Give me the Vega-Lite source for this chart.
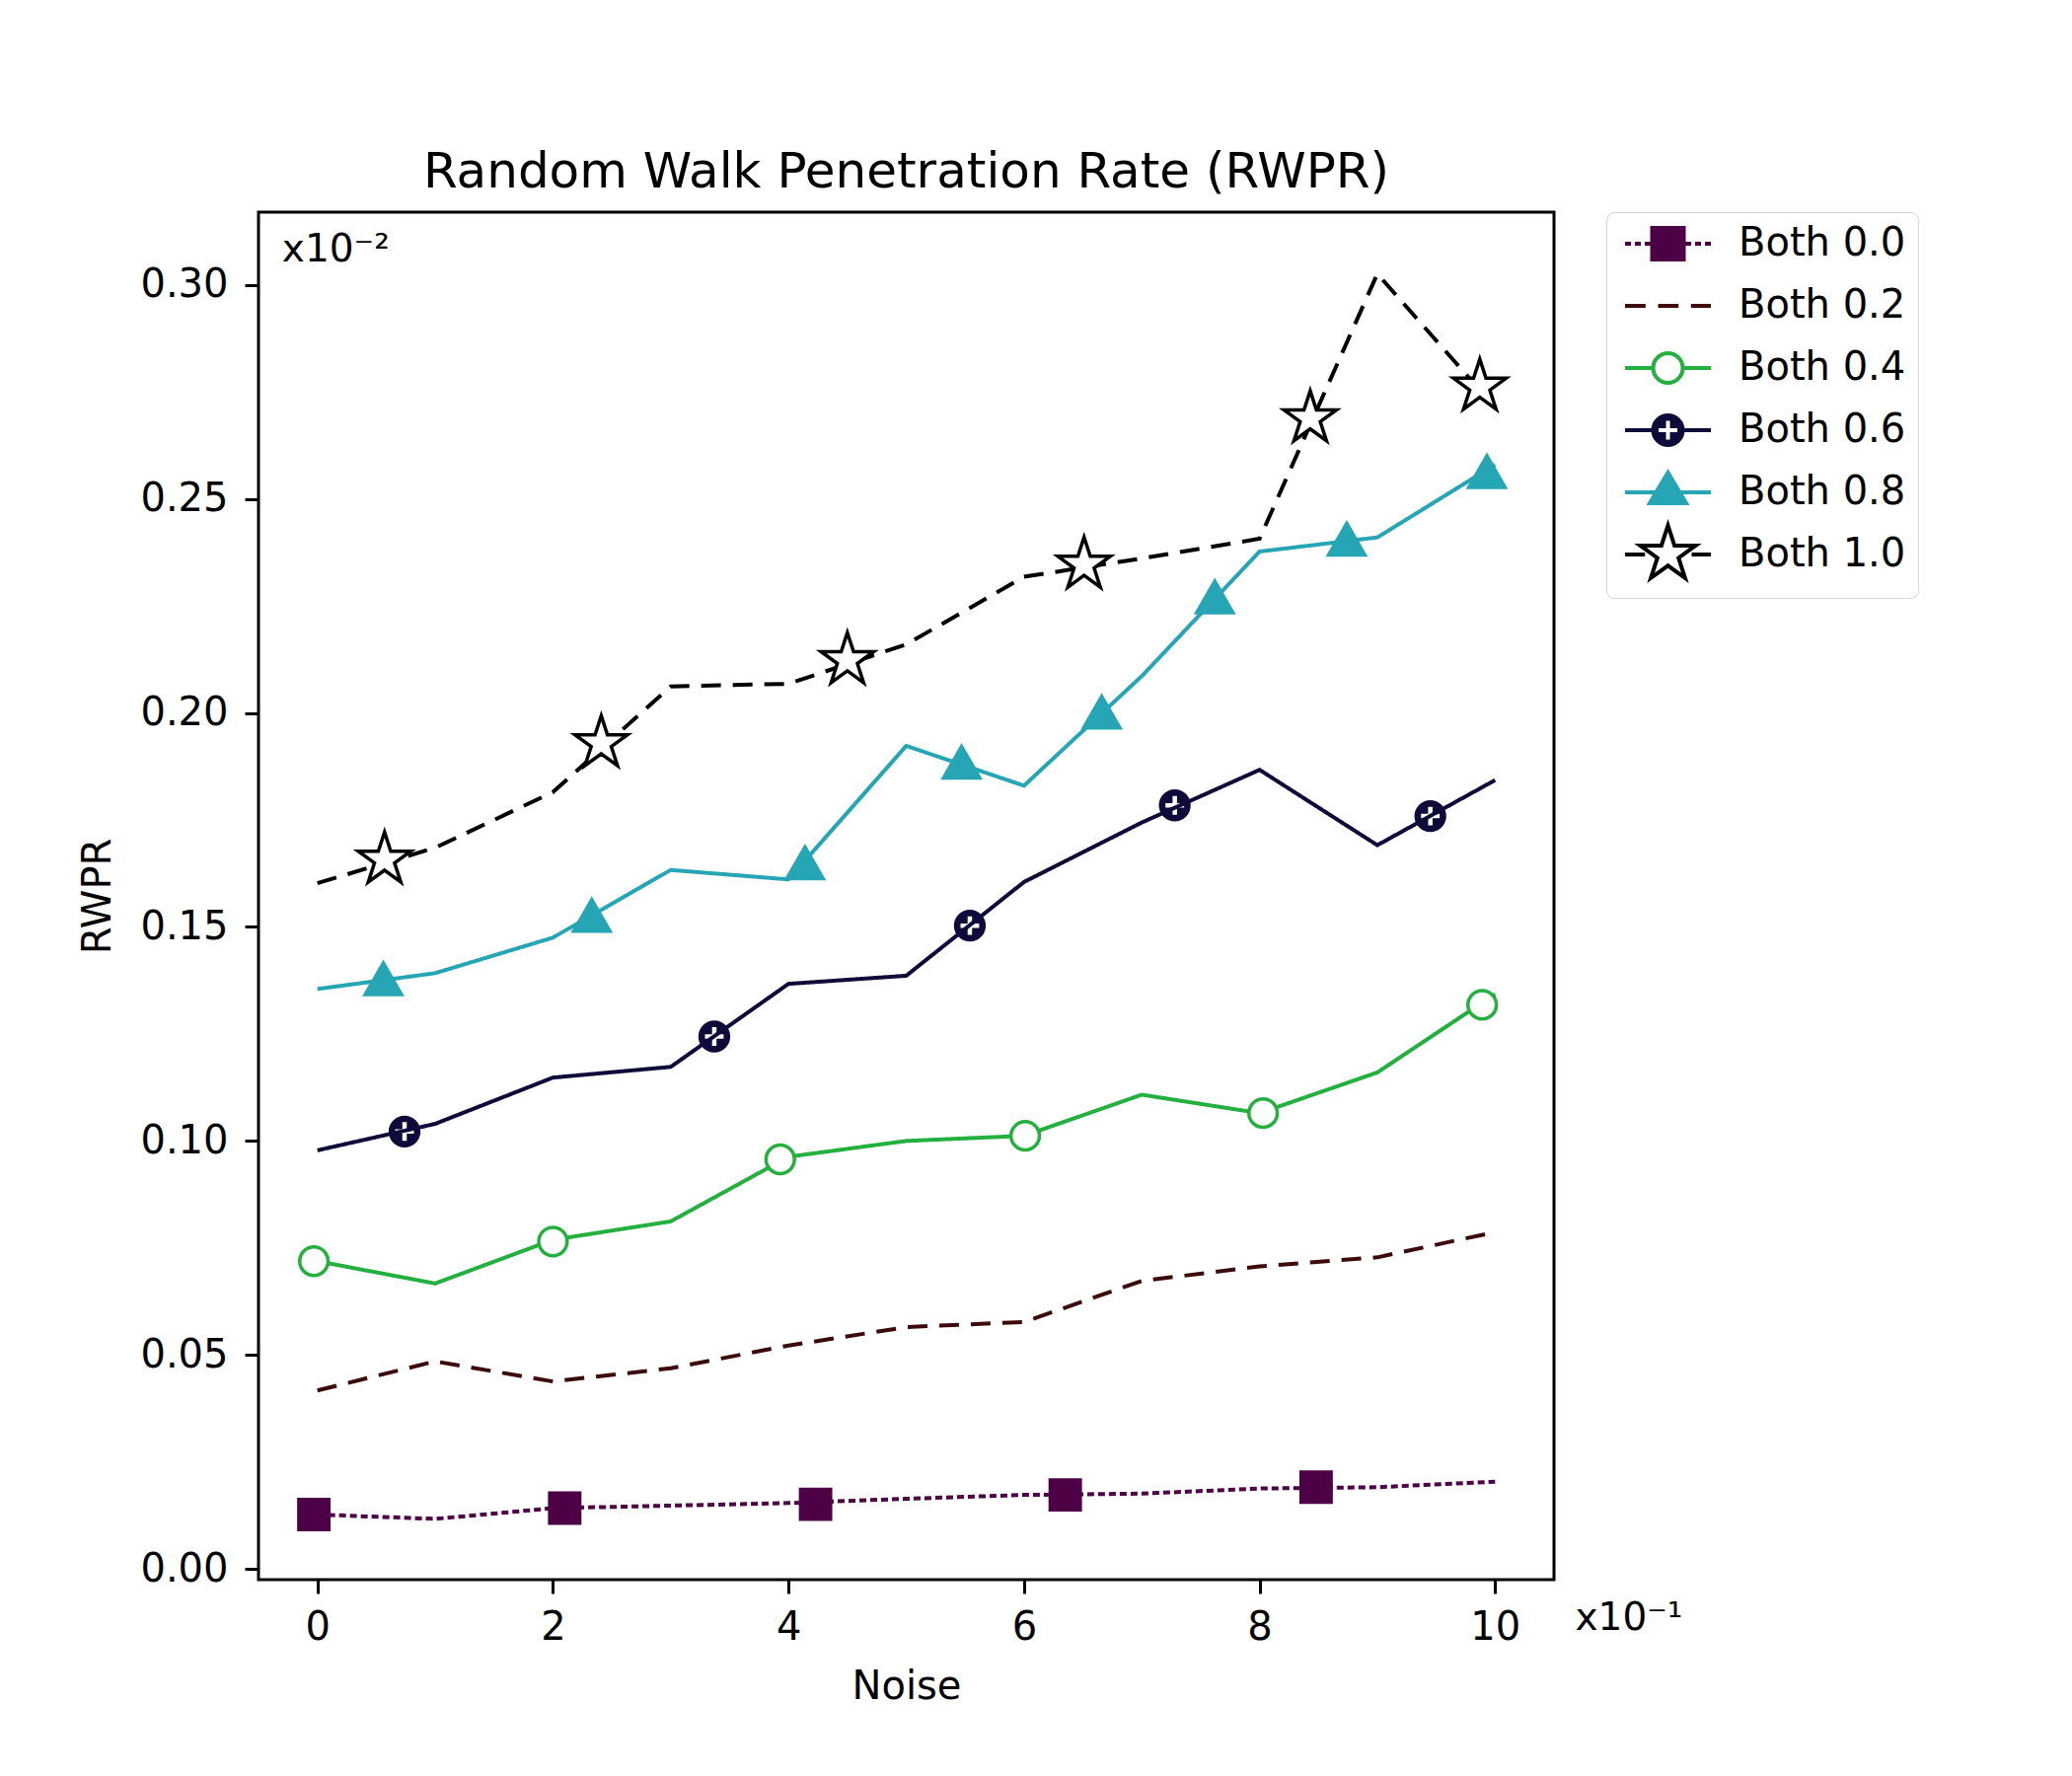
{
  "$schema": "https://vega.github.io/schema/vega-lite/v6.json",
  "width": 1313,
  "height": 1386,
  "autosize": {"type": "none"},
  "padding": {"left": 262, "top": 215, "right": 525, "bottom": 199},
  "background": "white",
  "title": {
    "text": "Random Walk Penetration Rate (RWPR)",
    "font": "DejaVu Sans",
    "fontSize": 50,
    "fontWeight": "normal",
    "color": "black",
    "anchor": "middle",
    "frame": "group",
    "baseline": "alphabetic",
    "offset": -25
  },
  "datasets": {
    "lines": [
      {"series": "Both 0.0", "noise": 0, "rwpr": 0.0127},
      {"series": "Both 0.0", "noise": 1, "rwpr": 0.0117},
      {"series": "Both 0.0", "noise": 2, "rwpr": 0.0142},
      {"series": "Both 0.0", "noise": 3, "rwpr": 0.0148},
      {"series": "Both 0.0", "noise": 4, "rwpr": 0.0154},
      {"series": "Both 0.0", "noise": 5, "rwpr": 0.0164},
      {"series": "Both 0.0", "noise": 6, "rwpr": 0.0173},
      {"series": "Both 0.0", "noise": 7, "rwpr": 0.0176},
      {"series": "Both 0.0", "noise": 8, "rwpr": 0.0188},
      {"series": "Both 0.0", "noise": 9, "rwpr": 0.0191},
      {"series": "Both 0.0", "noise": 10, "rwpr": 0.0204},
      {"series": "Both 0.2", "noise": 0, "rwpr": 0.0417},
      {"series": "Both 0.2", "noise": 1, "rwpr": 0.0485},
      {"series": "Both 0.2", "noise": 2, "rwpr": 0.0438},
      {"series": "Both 0.2", "noise": 3, "rwpr": 0.0469},
      {"series": "Both 0.2", "noise": 4, "rwpr": 0.0522},
      {"series": "Both 0.2", "noise": 5, "rwpr": 0.0565},
      {"series": "Both 0.2", "noise": 6, "rwpr": 0.0577},
      {"series": "Both 0.2", "noise": 7, "rwpr": 0.0673},
      {"series": "Both 0.2", "noise": 8, "rwpr": 0.0707},
      {"series": "Both 0.2", "noise": 9, "rwpr": 0.0728},
      {"series": "Both 0.2", "noise": 10, "rwpr": 0.0787},
      {"series": "Both 0.4", "noise": 0, "rwpr": 0.0719},
      {"series": "Both 0.4", "noise": 1, "rwpr": 0.0667},
      {"series": "Both 0.4", "noise": 2, "rwpr": 0.0769},
      {"series": "Both 0.4", "noise": 3, "rwpr": 0.0812},
      {"series": "Both 0.4", "noise": 4, "rwpr": 0.0963},
      {"series": "Both 0.4", "noise": 5, "rwpr": 0.1000},
      {"series": "Both 0.4", "noise": 6, "rwpr": 0.1012},
      {"series": "Both 0.4", "noise": 7, "rwpr": 0.1108},
      {"series": "Both 0.4", "noise": 8, "rwpr": 0.1065},
      {"series": "Both 0.4", "noise": 9, "rwpr": 0.1160},
      {"series": "Both 0.4", "noise": 10, "rwpr": 0.1343},
      {"series": "Both 0.6", "noise": 0, "rwpr": 0.0978},
      {"series": "Both 0.6", "noise": 1, "rwpr": 0.1040},
      {"series": "Both 0.6", "noise": 2, "rwpr": 0.1148},
      {"series": "Both 0.6", "noise": 3, "rwpr": 0.1173},
      {"series": "Both 0.6", "noise": 4, "rwpr": 0.1367},
      {"series": "Both 0.6", "noise": 5, "rwpr": 0.1386},
      {"series": "Both 0.6", "noise": 6, "rwpr": 0.1605},
      {"series": "Both 0.6", "noise": 7, "rwpr": 0.1744},
      {"series": "Both 0.6", "noise": 8, "rwpr": 0.1867},
      {"series": "Both 0.6", "noise": 9, "rwpr": 0.1691},
      {"series": "Both 0.6", "noise": 10, "rwpr": 0.1843},
      {"series": "Both 0.8", "noise": 0, "rwpr": 0.1355},
      {"series": "Both 0.8", "noise": 1, "rwpr": 0.1392},
      {"series": "Both 0.8", "noise": 2, "rwpr": 0.1475},
      {"series": "Both 0.8", "noise": 3, "rwpr": 0.1633},
      {"series": "Both 0.8", "noise": 4, "rwpr": 0.1611},
      {"series": "Both 0.8", "noise": 5, "rwpr": 0.1923},
      {"series": "Both 0.8", "noise": 6, "rwpr": 0.1830},
      {"series": "Both 0.8", "noise": 7, "rwpr": 0.2086},
      {"series": "Both 0.8", "noise": 8, "rwpr": 0.2377},
      {"series": "Both 0.8", "noise": 9, "rwpr": 0.2410},
      {"series": "Both 0.8", "noise": 10, "rwpr": 0.2580},
      {"series": "Both 1.0", "noise": 0, "rwpr": 0.1602},
      {"series": "Both 1.0", "noise": 1, "rwpr": 0.1685},
      {"series": "Both 1.0", "noise": 2, "rwpr": 0.1815},
      {"series": "Both 1.0", "noise": 3, "rwpr": 0.2062},
      {"series": "Both 1.0", "noise": 4, "rwpr": 0.2068},
      {"series": "Both 1.0", "noise": 5, "rwpr": 0.2160},
      {"series": "Both 1.0", "noise": 6, "rwpr": 0.2318},
      {"series": "Both 1.0", "noise": 7, "rwpr": 0.2361},
      {"series": "Both 1.0", "noise": 8, "rwpr": 0.2407},
      {"series": "Both 1.0", "noise": 9, "rwpr": 0.3026},
      {"series": "Both 1.0", "noise": 10, "rwpr": 0.2714}
    ],
    "markers": [
      {"series": "Both 0.0", "noise": -0.03, "rwpr": 0.0127},
      {"series": "Both 0.0", "noise": 2.10, "rwpr": 0.0142},
      {"series": "Both 0.0", "noise": 4.23, "rwpr": 0.0151},
      {"series": "Both 0.0", "noise": 6.35, "rwpr": 0.0173},
      {"series": "Both 0.0", "noise": 8.48, "rwpr": 0.0191},
      {"series": "Both 0.4", "noise": -0.03, "rwpr": 0.0719},
      {"series": "Both 0.4", "noise": 2.00, "rwpr": 0.0765},
      {"series": "Both 0.4", "noise": 3.93, "rwpr": 0.0957},
      {"series": "Both 0.4", "noise": 6.01, "rwpr": 0.1012},
      {"series": "Both 0.4", "noise": 8.03, "rwpr": 0.1065},
      {"series": "Both 0.4", "noise": 9.89, "rwpr": 0.1318},
      {"series": "Both 0.6", "noise": 0.74, "rwpr": 0.1022},
      {"series": "Both 0.6", "noise": 3.37, "rwpr": 0.1244},
      {"series": "Both 0.6", "noise": 5.54, "rwpr": 0.1503},
      {"series": "Both 0.6", "noise": 7.28, "rwpr": 0.1784},
      {"series": "Both 0.6", "noise": 9.45, "rwpr": 0.1759},
      {"series": "Both 0.8", "noise": 0.56, "rwpr": 0.1377},
      {"series": "Both 0.8", "noise": 2.33, "rwpr": 0.1525},
      {"series": "Both 0.8", "noise": 4.14, "rwpr": 0.1648},
      {"series": "Both 0.8", "noise": 5.47, "rwpr": 0.1883},
      {"series": "Both 0.8", "noise": 6.66, "rwpr": 0.2000},
      {"series": "Both 0.8", "noise": 7.62, "rwpr": 0.2269},
      {"series": "Both 0.8", "noise": 8.74, "rwpr": 0.2404},
      {"series": "Both 0.8", "noise": 9.93, "rwpr": 0.2562},
      {"series": "Both 1.0", "noise": 0.57, "rwpr": 0.1657},
      {"series": "Both 1.0", "noise": 2.41, "rwpr": 0.1929},
      {"series": "Both 1.0", "noise": 4.50, "rwpr": 0.2123},
      {"series": "Both 1.0", "noise": 6.51, "rwpr": 0.2346},
      {"series": "Both 1.0", "noise": 8.43, "rwpr": 0.2688},
      {"series": "Both 1.0", "noise": 9.87, "rwpr": 0.2762}
    ]
  },
  "layer": [
    {
      "data": {"name": "lines"},
      "mark": {"type": "line", "strokeWidth": 4, "strokeCap": "butt"},
      "encoding": {
        "x": {
          "field": "noise",
          "type": "quantitative",
          "scale": {"domain": [-0.5, 10.5], "nice": false, "zero": false},
          "axis": {"values": [0, 2, 4, 6, 8, 10], "format": "d", "title": "Noise", "labelPadding": 14, "titlePadding": 20}
        },
        "y": {
          "field": "rwpr",
          "type": "quantitative",
          "scale": {"domain": [-0.0025, 0.317], "nice": false, "zero": false},
          "axis": {"values": [0, 0.05, 0.1, 0.15, 0.2, 0.25, 0.3], "format": ".2f", "title": "RWPR", "labelPadding": 17, "titlePadding": 22}
        },
        "color": {
          "field": "series",
          "type": "nominal",
          "scale": {
            "domain": ["Both 0.0", "Both 0.2", "Both 0.4", "Both 0.6", "Both 0.8", "Both 1.0"],
            "range": ["#4d0045", "#3d0a0c", "#23b03e", "#0e0a3a", "#26a6b5", "#000000"]
          },
          "legend": null
        },
        "strokeDash": {
          "field": "series",
          "type": "nominal",
          "scale": {
            "domain": ["Both 0.0", "Both 0.2", "Both 0.4", "Both 0.6", "Both 0.8", "Both 1.0"],
            "range": [[7, 4], [20, 12], [1, 0], [1, 0], [1, 0], [20, 12]]
          },
          "legend": null
        }
      }
    },
    {
      "data": {"name": "markers"},
      "mark": {"type": "point", "filled": true, "strokeWidth": 3.5, "opacity": 1, "size": 1024},
      "encoding": {
        "x": {"field": "noise", "type": "quantitative"},
        "y": {"field": "rwpr", "type": "quantitative"},
        "shape": {
          "field": "series",
          "type": "nominal",
          "scale": {
            "domain": ["Both 0.0", "Both 0.4", "Both 0.6", "Both 0.8", "Both 1.0"],
            "range": [
              "M-0.95,-0.95H0.95V0.95H-0.95Z",
              "M0.9,0A0.9,0.9 0 1,1 -0.9,0A0.9,0.9 0 1,1 0.9,0Z",
              "M0.9,0A0.9,0.9 0 1,1 -0.9,0A0.9,0.9 0 1,1 0.9,0ZM0.25,-0.7L-0.25,-0.7L-0.25,-0.25L-0.7,-0.25L-0.7,0.25L-0.25,0.25L-0.25,0.7L0.25,0.7L0.25,0.25L0.7,0.25L0.7,-0.25L0.25,-0.25Z",
              "M0,-1.05L1.15,0.95H-1.15Z",
              "M0,-1.75L0.393,-0.541L1.664,-0.541L0.636,0.207L1.029,1.416L0,0.668L-1.029,1.416L-0.636,0.207L-1.664,-0.541L-0.393,-0.541Z"
            ]
          },
          "legend": null
        },
        "stroke": {
          "field": "series",
          "type": "nominal",
          "scale": {
            "domain": ["Both 0.0", "Both 0.4", "Both 0.6", "Both 0.8", "Both 1.0"],
            "range": ["#4d0045", "#23b03e", "#0e0a3a", "#26a6b5", "#000000"]
          },
          "legend": null
        },
        "fill": {
          "field": "series",
          "type": "nominal",
          "scale": {
            "domain": ["Both 0.0", "Both 0.4", "Both 0.6", "Both 0.8", "Both 1.0"],
            "range": ["#4d0045", "#ffffff", "#0e0a3a", "#26a6b5", "#ffffff"]
          },
          "legend": null
        }
      }
    },
    {
      "data": {"name": "lines"},
      "transform": [{"filter": "false"}],
      "mark": {"type": "point", "filled": true, "opacity": 1, "strokeWidth": 4, "size": 484},
      "encoding": {
        "shape": {
          "field": "series",
          "type": "nominal",
          "scale": {
            "domain": ["Both 0.0", "Both 0.2", "Both 0.4", "Both 0.6", "Both 0.8", "Both 1.0"],
            "range": [
              "M-1.182,0H-0.636M-0.272,0H0.273M0.637,0H1.182M4.364,0H4.909M5.273,0H5.818M6.182,0H6.728M1.318,-1.455H4.228V1.455H1.318ZM2.773,-1.773M2.773,2.17",
              "M-1.182,0H0.709M1.864,0H3.746M4.891,0H6.728M2.773,-2.682M2.773,2.17",
              "M-1.182,0H1.409M4.137,0H6.728M4.137,0A1.364,1.364 0 1,1 1.409,0A1.364,1.364 0 1,1 4.137,0ZM2.773,-2.682M2.773,2.17",
              "M-1.182,0H1.409M4.137,0H6.728M4.137,0A1.364,1.364 0 1,1 1.409,0A1.364,1.364 0 1,1 4.137,0ZM3.137,-1.045L2.409,-1.045L2.409,-0.364L1.728,-0.364L1.728,0.364L2.409,0.364L2.409,1.045L3.137,1.045L3.137,0.364L3.818,0.364L3.818,-0.364L3.137,-0.364ZM2.773,-2.682M2.773,2.17",
              "M-1.182,0H6.728M2.773,-1.818L4.455,1H1.091ZM2.773,-2.682M2.773,2.17",
              "M-1.182,0H0.655M4.955,0H6.728M2.773,-2.682L3.375,-0.829L5.324,-0.829L3.748,0.317L4.349,2.17L2.773,1.025L1.197,2.17L1.798,0.317L0.222,-0.829L2.171,-0.829Z"
            ]
          },
          "legend": {
            "title": null,
            "orient": "right",
            "offset": 53,
            "padding": 12,
            "symbolSize": 484,
            "symbolStrokeWidth": 4,
            "symbolOpacity": 1,
            "labelFontSize": 40,
            "labelFont": "DejaVu Sans",
            "labelColor": "black",
            "labelOffset": 82,
            "labelLimit": 0,
            "rowPadding": -7,
            "strokeColor": "#d4d4d4",
            "fillColor": "white",
            "cornerRadius": 8,
            "encode": {"legend": {"update": {"strokeWidth": {"value": 3}}}}
          }
        },
        "stroke": {
          "field": "series",
          "type": "nominal",
          "scale": {
            "domain": ["Both 0.0", "Both 0.2", "Both 0.4", "Both 0.6", "Both 0.8", "Both 1.0"],
            "range": ["#4d0045", "#3d0a0c", "#23b03e", "#0e0a3a", "#26a6b5", "#000000"]
          }
        },
        "fill": {
          "field": "series",
          "type": "nominal",
          "scale": {
            "domain": ["Both 0.0", "Both 0.2", "Both 0.4", "Both 0.6", "Both 0.8", "Both 1.0"],
            "range": ["#4d0045", "transparent", "#ffffff", "#0e0a3a", "#26a6b5", "#ffffff"]
          }
        }
      }
    },
    {
      "data": {"values": [{}]},
      "mark": {"type": "text", "text": "x10⁻²", "align": "left", "baseline": "alphabetic", "fontSize": 39, "font": "DejaVu Sans", "color": "black"},
      "encoding": {
        "x": {"datum": -0.3, "type": "quantitative"},
        "y": {"datum": 0.3054, "type": "quantitative"}
      }
    },
    {
      "data": {"values": [{}]},
      "mark": {"type": "text", "text": "x10⁻¹", "align": "left", "baseline": "alphabetic", "fontSize": 39, "font": "DejaVu Sans", "color": "black", "clip": false},
      "encoding": {
        "x": {"datum": 10.68, "type": "quantitative"},
        "y": {"datum": -0.0142, "type": "quantitative"}
      }
    }
  ],
  "resolve": {
    "scale": {"shape": "independent", "stroke": "independent", "fill": "independent", "color": "independent", "strokeDash": "independent"}
  },
  "config": {
    "font": "DejaVu Sans",
    "view": {"stroke": "black", "strokeWidth": 3},
    "axis": {
      "domain": false,
      "grid": false,
      "ticks": true,
      "tickColor": "black",
      "tickWidth": 3,
      "tickSize": 14,
      "labelFont": "DejaVu Sans",
      "labelFontSize": 40,
      "labelColor": "black",
      "titleFont": "DejaVu Sans",
      "titleFontSize": 40,
      "titleFontWeight": "normal",
      "titleColor": "black",
      "labelFlush": false,
      "labelOverlap": false
    }
  }
}
